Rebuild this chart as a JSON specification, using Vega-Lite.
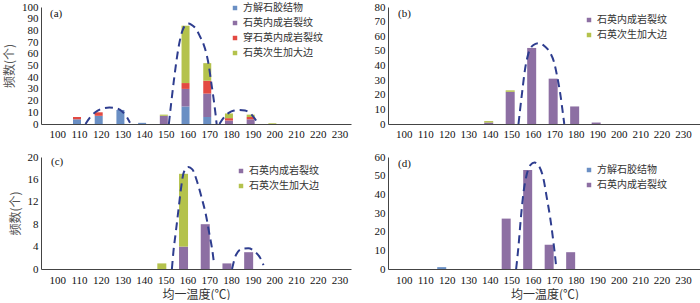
{
  "$schema": "https://vega.github.io/schema/vega-lite/v6.json",
  "padding": {"left": 3, "top": 1, "right": 0, "bottom": 0},
  "background": "white",
  "config": {
    "view": {"stroke": null},
    "axis": {
      "labelFont": "Liberation Serif", "labelFontSize": 11, "labelColor": "#111",
      "labelOverlap": false, "labelFlush": false,
      "domainColor": "#444", "ticks": false, "grid": false,
      "titleFont": "Noto Sans CJK SC", "titleFontSize": 12, "titleFontWeight": "normal", "titleColor": "#555"
    },
    "legend": {
      "labelFont": "Noto Sans CJK SC", "labelFontSize": 10, "labelColor": "#333",
      "symbolType": "square", "symbolSize": 20, "symbolStrokeWidth": 0, "rowPadding": 5, "labelOffset": 3
    },
    "line": {"color": "#2e3d8f", "strokeWidth": 2, "strokeDash": [8, 5], "interpolate": "monotone"},
    "text": {"font": "Liberation Serif", "fontSize": 11, "color": "#111", "align": "left", "baseline": "middle"}
  },
  "datasets": {
    "bars": [
      {"p": "a", "T": 110, "type": "方解石胶结物", "n": 4},
      {"p": "a", "T": 110, "type": "穿石英内成岩裂纹", "n": 2},
      {"p": "a", "T": 120, "type": "方解石胶结物", "n": 7},
      {"p": "a", "T": 120, "type": "穿石英内成岩裂纹", "n": 3},
      {"p": "a", "T": 130, "type": "方解石胶结物", "n": 12},
      {"p": "a", "T": 140, "type": "方解石胶结物", "n": 1},
      {"p": "a", "T": 150, "type": "石英内成岩裂纹", "n": 7},
      {"p": "a", "T": 150, "type": "石英次生加大边", "n": 1},
      {"p": "a", "T": 160, "type": "方解石胶结物", "n": 15},
      {"p": "a", "T": 160, "type": "石英内成岩裂纹", "n": 15},
      {"p": "a", "T": 160, "type": "穿石英内成岩裂纹", "n": 5},
      {"p": "a", "T": 160, "type": "石英次生加大边", "n": 49},
      {"p": "a", "T": 170, "type": "方解石胶结物", "n": 6},
      {"p": "a", "T": 170, "type": "石英内成岩裂纹", "n": 20},
      {"p": "a", "T": 170, "type": "穿石英内成岩裂纹", "n": 11},
      {"p": "a", "T": 170, "type": "石英次生加大边", "n": 15},
      {"p": "a", "T": 180, "type": "石英内成岩裂纹", "n": 3},
      {"p": "a", "T": 180, "type": "穿石英内成岩裂纹", "n": 2},
      {"p": "a", "T": 180, "type": "石英次生加大边", "n": 4},
      {"p": "a", "T": 190, "type": "石英内成岩裂纹", "n": 4},
      {"p": "a", "T": 190, "type": "穿石英内成岩裂纹", "n": 2},
      {"p": "a", "T": 190, "type": "石英次生加大边", "n": 2},
      {"p": "a", "T": 200, "type": "石英次生加大边", "n": 0.6},
      {"p": "b", "T": 140, "type": "石英内成岩裂纹", "n": 1},
      {"p": "b", "T": 140, "type": "石英次生加大边", "n": 1},
      {"p": "b", "T": 150, "type": "石英内成岩裂纹", "n": 22},
      {"p": "b", "T": 150, "type": "石英次生加大边", "n": 1},
      {"p": "b", "T": 160, "type": "石英内成岩裂纹", "n": 52},
      {"p": "b", "T": 170, "type": "石英内成岩裂纹", "n": 31},
      {"p": "b", "T": 180, "type": "石英内成岩裂纹", "n": 12},
      {"p": "b", "T": 190, "type": "石英内成岩裂纹", "n": 1},
      {"p": "c", "T": 150, "type": "石英次生加大边", "n": 1},
      {"p": "c", "T": 160, "type": "石英内成岩裂纹", "n": 4},
      {"p": "c", "T": 160, "type": "石英次生加大边", "n": 13},
      {"p": "c", "T": 170, "type": "石英内成岩裂纹", "n": 8},
      {"p": "c", "T": 180, "type": "石英内成岩裂纹", "n": 1},
      {"p": "c", "T": 190, "type": "石英内成岩裂纹", "n": 3},
      {"p": "d", "T": 120, "type": "方解石胶结物", "n": 1},
      {"p": "d", "T": 150, "type": "石英内成岩裂纹", "n": 27},
      {"p": "d", "T": 160, "type": "石英内成岩裂纹", "n": 53},
      {"p": "d", "T": 170, "type": "石英内成岩裂纹", "n": 13},
      {"p": "d", "T": 180, "type": "石英内成岩裂纹", "n": 9}
    ],
    "curves": [
      {"p": "a", "g": 1, "T": 113, "n": 0},
      {"p": "a", "g": 1, "T": 115, "n": 5.5},
      {"p": "a", "g": 1, "T": 117.5, "n": 10},
      {"p": "a", "g": 1, "T": 120.5, "n": 13},
      {"p": "a", "g": 1, "T": 124, "n": 14},
      {"p": "a", "g": 1, "T": 127, "n": 13.5},
      {"p": "a", "g": 1, "T": 130, "n": 10.5},
      {"p": "a", "g": 1, "T": 132, "n": 6},
      {"p": "a", "g": 1, "T": 133.5, "n": 1},
      {"p": "a", "g": 2, "T": 151.4, "n": 0},
      {"p": "a", "g": 2, "T": 152.6, "n": 20},
      {"p": "a", "g": 2, "T": 153.7, "n": 37},
      {"p": "a", "g": 2, "T": 154.9, "n": 54},
      {"p": "a", "g": 2, "T": 156.1, "n": 68},
      {"p": "a", "g": 2, "T": 157.6, "n": 79.5},
      {"p": "a", "g": 2, "T": 159.1, "n": 84.7},
      {"p": "a", "g": 2, "T": 160.4, "n": 85.8},
      {"p": "a", "g": 2, "T": 161.7, "n": 85},
      {"p": "a", "g": 2, "T": 164, "n": 81},
      {"p": "a", "g": 2, "T": 165.7, "n": 75},
      {"p": "a", "g": 2, "T": 167.4, "n": 68},
      {"p": "a", "g": 2, "T": 168.7, "n": 60},
      {"p": "a", "g": 2, "T": 169.8, "n": 50},
      {"p": "a", "g": 2, "T": 170.8, "n": 37},
      {"p": "a", "g": 2, "T": 171.9, "n": 23},
      {"p": "a", "g": 2, "T": 172.9, "n": 8.5},
      {"p": "a", "g": 2, "T": 173.4, "n": 0},
      {"p": "a", "g": 3, "T": 174.7, "n": 0},
      {"p": "a", "g": 3, "T": 176.5, "n": 5},
      {"p": "a", "g": 3, "T": 179, "n": 9.5},
      {"p": "a", "g": 3, "T": 181.5, "n": 11.5},
      {"p": "a", "g": 3, "T": 184, "n": 12},
      {"p": "a", "g": 3, "T": 186.5, "n": 11.5},
      {"p": "a", "g": 3, "T": 189, "n": 9},
      {"p": "a", "g": 3, "T": 191.6, "n": 3},
      {"p": "b", "g": 1, "T": 153.4, "n": 0},
      {"p": "b", "g": 1, "T": 154.1, "n": 9.3},
      {"p": "b", "g": 1, "T": 155.2, "n": 23},
      {"p": "b", "g": 1, "T": 156.4, "n": 37},
      {"p": "b", "g": 1, "T": 157.9, "n": 47.6},
      {"p": "b", "g": 1, "T": 160.2, "n": 53.8},
      {"p": "b", "g": 1, "T": 162.7, "n": 55.2},
      {"p": "b", "g": 1, "T": 165.4, "n": 53.4},
      {"p": "b", "g": 1, "T": 168.2, "n": 48.5},
      {"p": "b", "g": 1, "T": 170, "n": 42},
      {"p": "b", "g": 1, "T": 171.4, "n": 32.5},
      {"p": "b", "g": 1, "T": 172.8, "n": 21},
      {"p": "b", "g": 1, "T": 174, "n": 8},
      {"p": "b", "g": 1, "T": 174.7, "n": 0},
      {"p": "c", "g": 1, "T": 152.8, "n": 0},
      {"p": "c", "g": 1, "T": 153.5, "n": 3.1},
      {"p": "c", "g": 1, "T": 154.6, "n": 6.6},
      {"p": "c", "g": 1, "T": 155.8, "n": 10.5},
      {"p": "c", "g": 1, "T": 157, "n": 14.4},
      {"p": "c", "g": 1, "T": 158.3, "n": 17.3},
      {"p": "c", "g": 1, "T": 160.3, "n": 18.2},
      {"p": "c", "g": 1, "T": 162.2, "n": 17.8},
      {"p": "c", "g": 1, "T": 164.5, "n": 15.5},
      {"p": "c", "g": 1, "T": 166.6, "n": 12.6},
      {"p": "c", "g": 1, "T": 168.5, "n": 9.6},
      {"p": "c", "g": 1, "T": 170, "n": 6.4},
      {"p": "c", "g": 1, "T": 171.5, "n": 3.1},
      {"p": "c", "g": 1, "T": 172.3, "n": 0.7},
      {"p": "c", "g": 2, "T": 180.5, "n": 0},
      {"p": "c", "g": 2, "T": 182.3, "n": 2.5},
      {"p": "c", "g": 2, "T": 185, "n": 3.6},
      {"p": "c", "g": 2, "T": 188, "n": 3.7},
      {"p": "c", "g": 2, "T": 191, "n": 3.1},
      {"p": "c", "g": 2, "T": 193.6, "n": 1.9},
      {"p": "c", "g": 2, "T": 195, "n": 0.7},
      {"p": "d", "g": 1, "T": 152.3, "n": 0},
      {"p": "d", "g": 1, "T": 153.4, "n": 12.3},
      {"p": "d", "g": 1, "T": 154.4, "n": 26},
      {"p": "d", "g": 1, "T": 155.6, "n": 39.8},
      {"p": "d", "g": 1, "T": 157.1, "n": 50},
      {"p": "d", "g": 1, "T": 158.9, "n": 55.6},
      {"p": "d", "g": 1, "T": 160.9, "n": 57},
      {"p": "d", "g": 1, "T": 162.9, "n": 55.2},
      {"p": "d", "g": 1, "T": 165, "n": 48.4},
      {"p": "d", "g": 1, "T": 166.6, "n": 38},
      {"p": "d", "g": 1, "T": 168.1, "n": 27.8},
      {"p": "d", "g": 1, "T": 169.5, "n": 15.8},
      {"p": "d", "g": 1, "T": 170.7, "n": 3.8},
      {"p": "d", "g": 1, "T": 171, "n": 0}
    ],
    "labels": [
      {"p": "a", "label": "(a)", "T": 94.8, "n": 100},
      {"p": "b", "label": "(b)", "T": 95, "n": 80},
      {"p": "c", "label": "(c)", "T": 94.8, "n": 20},
      {"p": "d", "label": "(d)", "T": 95, "n": 60}
    ]
  },
  "resolve": {"scale": {"color": "independent"}, "legend": {"color": "independent"}},
  "spacing": 12,
  "vconcat": [
    {
      "spacing": 23,
      "resolve": {"scale": {"color": "independent"}, "legend": {"color": "independent"}},
      "hconcat": [
        {
          "width": 310, "height": 117,
          "encoding": {
            "x": {"field": "T", "type": "quantitative", "scale": {"domain": [94.8, 233], "nice": false, "zero": false},
                  "axis": {"values": [100,110,120,130,140,150,160,170,180,190,200,210,220,230], "title": null, "labelPadding": 4,
                           "labelOverlap": false, "labelFont": "Liberation Serif", "labelFontSize": 11}},
            "y": {"field": "n", "type": "quantitative", "scale": {"domain": [0, 100], "nice": false},
                  "axis": {"values": [0,10,20,30,40,50,60,70,80,90,100], "title": "频数(个)", "titlePadding": 5, "labelPadding": 3,
                           "labelOverlap": false, "labelFont": "Liberation Serif", "labelFontSize": 11}}
          },
          "layer": [
            {
              "data": {"name": "bars"},
              "transform": [{"filter": "datum.p == 'a'"}, {"calculate": "indexof(['方解石胶结物','石英内成岩裂纹','穿石英内成岩裂纹','石英次生加大边'], datum.type)", "as": "k"}],
              "mark": {"type": "bar", "width": 8, "xOffset": -2},
              "encoding": {
                "order": {"field": "k", "type": "quantitative", "sort": "ascending"},
                "color": {"field": "type", "type": "nominal",
                          "sort": ["方解石胶结物", "石英内成岩裂纹", "穿石英内成岩裂纹", "石英次生加大边"],
                          "scale": {"domain": ["方解石胶结物", "石英内成岩裂纹", "穿石英内成岩裂纹", "石英次生加大边"],
                                    "range": ["#6a8fc4", "#8d6fa3", "#e34a42", "#b4c24c"]},
                          "legend": {"title": null, "orient": "none", "legendX": 189, "legendY": -4}}
              }
            },
            {
              "data": {"name": "curves"},
              "transform": [{"filter": "datum.p == 'a'"}],
              "mark": {"type": "line"},
              "encoding": {"detail": {"field": "g", "type": "nominal"}}
            },
            {
              "data": {"name": "labels"},
              "transform": [{"filter": "datum.p == 'a'"}],
              "mark": {"type": "text", "dx": 4, "dy": 7},
              "encoding": {"text": {"field": "label"}}
            }
          ]
        },
        {
          "width": 313, "height": 117,
          "encoding": {
            "x": {"field": "T", "type": "quantitative", "scale": {"domain": [95, 236], "nice": false, "zero": false},
                  "axis": {"values": [100,110,120,130,140,150,160,170,180,190,200,210,220,230], "title": null, "labelPadding": 4,
                           "labelOverlap": false, "labelFont": "Liberation Serif", "labelFontSize": 11}},
            "y": {"field": "n", "type": "quantitative", "scale": {"domain": [0, 80], "nice": false},
                  "axis": {"values": [0,10,20,30,40,50,60,70,80], "title": null, "labelPadding": 3,
                           "labelOverlap": false, "labelFont": "Liberation Serif", "labelFontSize": 11}}
          },
          "layer": [
            {
              "data": {"name": "bars"},
              "transform": [{"filter": "datum.p == 'b'"}, {"calculate": "indexof(['石英内成岩裂纹','石英次生加大边'], datum.type)", "as": "k"}],
              "mark": {"type": "bar", "width": 9, "xOffset": -1},
              "encoding": {
                "order": {"field": "k", "type": "quantitative", "sort": "ascending"},
                "color": {"field": "type", "type": "nominal",
                          "sort": ["石英内成岩裂纹", "石英次生加大边"],
                          "scale": {"domain": ["石英内成岩裂纹", "石英次生加大边"], "range": ["#8d6fa3", "#b4c24c"]},
                          "legend": {"title": null, "orient": "none", "legendX": 196, "legendY": 8}}
              }
            },
            {
              "data": {"name": "curves"},
              "transform": [{"filter": "datum.p == 'b'"}],
              "mark": {"type": "line"},
              "encoding": {"detail": {"field": "g", "type": "nominal"}}
            },
            {
              "data": {"name": "labels"},
              "transform": [{"filter": "datum.p == 'b'"}],
              "mark": {"type": "text", "dx": 5, "dy": 7},
              "encoding": {"text": {"field": "label"}}
            }
          ]
        }
      ]
    },
    {
      "spacing": 23,
      "resolve": {"scale": {"color": "independent"}, "legend": {"color": "independent"}},
      "hconcat": [
        {
          "width": 310, "height": 112,
          "encoding": {
            "x": {"field": "T", "type": "quantitative", "scale": {"domain": [94.8, 233], "nice": false, "zero": false},
                  "axis": {"values": [100,110,120,130,140,150,160,170,180,190,200,210,220,230], "title": "均一温度(℃)", "titleColor": "#333", "titlePadding": 4, "labelPadding": 5,
                           "labelOverlap": false, "labelFont": "Liberation Serif", "labelFontSize": 11}},
            "y": {"field": "n", "type": "quantitative", "scale": {"domain": [0, 20], "nice": false},
                  "axis": {"values": [0,4,8,12,16,20], "title": "频数(个)", "titlePadding": 5, "labelPadding": 3,
                           "labelOverlap": false, "labelFont": "Liberation Serif", "labelFontSize": 11}}
          },
          "layer": [
            {
              "data": {"name": "bars"},
              "transform": [{"filter": "datum.p == 'c'"}, {"calculate": "indexof(['石英内成岩裂纹','石英次生加大边'], datum.type)", "as": "k"}],
              "mark": {"type": "bar", "width": 9, "xOffset": -4},
              "encoding": {
                "order": {"field": "k", "type": "quantitative", "sort": "ascending"},
                "color": {"field": "type", "type": "nominal",
                          "sort": ["石英内成岩裂纹", "石英次生加大边"],
                          "scale": {"domain": ["石英内成岩裂纹", "石英次生加大边"], "range": ["#8d6fa3", "#b4c24c"]},
                          "legend": {"title": null, "orient": "none", "legendX": 195, "legendY": 9}}
              }
            },
            {
              "data": {"name": "curves"},
              "transform": [{"filter": "datum.p == 'c'"}],
              "mark": {"type": "line"},
              "encoding": {"detail": {"field": "g", "type": "nominal"}}
            },
            {
              "data": {"name": "labels"},
              "transform": [{"filter": "datum.p == 'c'"}],
              "mark": {"type": "text", "dx": 5, "dy": 5},
              "encoding": {"text": {"field": "label"}}
            }
          ]
        },
        {
          "width": 313, "height": 112,
          "encoding": {
            "x": {"field": "T", "type": "quantitative", "scale": {"domain": [95, 236], "nice": false, "zero": false},
                  "axis": {"values": [100,110,120,130,140,150,160,170,180,190,200,210,220,230], "title": "均一温度(℃)", "titleColor": "#333", "titlePadding": 4, "labelPadding": 5,
                           "labelOverlap": false, "labelFont": "Liberation Serif", "labelFontSize": 11}},
            "y": {"field": "n", "type": "quantitative", "scale": {"domain": [0, 60], "nice": false},
                  "axis": {"values": [0,10,20,30,40,50,60], "title": null, "labelPadding": 3,
                           "labelOverlap": false, "labelFont": "Liberation Serif", "labelFontSize": 11}}
          },
          "layer": [
            {
              "data": {"name": "bars"},
              "transform": [{"filter": "datum.p == 'd'"}, {"calculate": "indexof(['方解石胶结物','石英内成岩裂纹'], datum.type)", "as": "k"}],
              "mark": {"type": "bar", "width": 9, "xOffset": -5},
              "encoding": {
                "order": {"field": "k", "type": "quantitative", "sort": "ascending"},
                "color": {"field": "type", "type": "nominal",
                          "sort": ["方解石胶结物", "石英内成岩裂纹"],
                          "scale": {"domain": ["方解石胶结物", "石英内成岩裂纹"], "range": ["#6a8fc4", "#8d6fa3"]},
                          "legend": {"title": null, "orient": "none", "legendX": 196, "legendY": 8}}
              }
            },
            {
              "data": {"name": "curves"},
              "transform": [{"filter": "datum.p == 'd'"}],
              "mark": {"type": "line"},
              "encoding": {"detail": {"field": "g", "type": "nominal"}}
            },
            {
              "data": {"name": "labels"},
              "transform": [{"filter": "datum.p == 'd'"}],
              "mark": {"type": "text", "dx": 5, "dy": 7},
              "encoding": {"text": {"field": "label"}}
            }
          ]
        }
      ]
    }
  ]
}
